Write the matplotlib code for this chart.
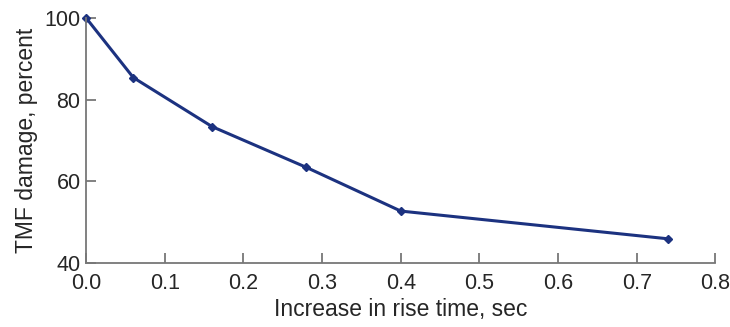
import matplotlib.pyplot as plt

# rise time increase (sec) vs TMF damage (percent)
rise_time = [0.0, 0.06, 0.16, 0.28, 0.40, 0.74]
damage = [100, 85.4, 73.4, 63.4, 52.7, 45.9]

x_ticks = [0.0, 0.1, 0.2, 0.3, 0.4, 0.5, 0.6, 0.7, 0.8]
y_ticks = [40, 60, 80, 100]

plt.rcParams['font.family'] = ['Liberation Sans', 'DejaVu Sans']

fig = plt.figure(figsize=(7.3, 3.27), dpi=100)
ax = fig.add_axes([0.118, 0.196, 0.862, 0.749])

ax.plot(rise_time, damage, color='#1c3280', linewidth=2.2,
        marker='D', markersize=4, markerfacecolor='#1c3280',
        markeredgecolor='#1c3280', clip_on=False)

ax.set_xlim(0, 0.8)
ax.set_ylim(40, 100)
ax.set_xticks(x_ticks)
ax.set_xticklabels(['%.1f' % t for t in x_ticks])
ax.set_yticks(y_ticks)

for side in ['top', 'right']:
    ax.spines[side].set_visible(False)
for side in ['left', 'bottom']:
    ax.spines[side].set_color('#777777')
    ax.spines[side].set_linewidth(1.3)

ax.tick_params(direction='in', length=7, width=1.3, color='#777777',
               labelsize=15.5, labelcolor='#262626')
ax.tick_params(axis='x', pad=7)
ax.tick_params(axis='y', pad=4)

ax.set_xlabel('Increase in rise time, sec', fontsize=16.5, color='#262626', labelpad=3)
ax.set_ylabel('TMF damage, percent', fontsize=16.5, color='#262626', labelpad=5)

fig.savefig('out.png', dpi=100)
